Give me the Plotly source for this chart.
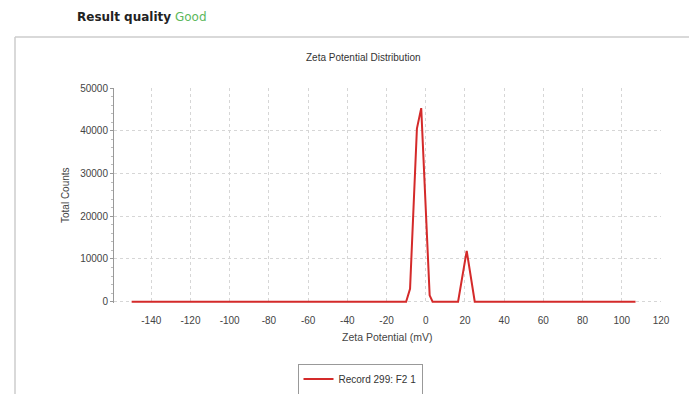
import plotly.graph_objects as go

# Data
zeta_mv = [-150, -10, -8, -4.5, -2.3, 2, 3.5, 16.5, 20.9, 25, 107]
total_counts = [0, 0, 3000, 40500, 45300, 1500, 0, 0, 11900, 0, 0]
series_name = "Record 299: F2 1"
x_ticks = [-140, -120, -100, -80, -60, -40, -20, 0, 20, 40, 60, 80, 100, 120]
x_labels = ["-140", "-120", "-100", "-80", "-60", "-40", "-20", "0", "20", "40", "60", "80", "100", "120"]
y_ticks = [0, 10000, 20000, 30000, 40000, 50000]
y_labels = ["0", "10000", "20000", "30000", "40000", "50000"]

W, H = 697, 394
OFF = 8  # default page body margin
L, R, T, B = 114, 661, 88, 303  # plot area in page px


def px(x):
    return (x - L) / (R - L)


def py(y):
    return (B - y) / (B - T)


font = "Liberation Sans, Arial, sans-serif"

fig = go.Figure()
fig.add_trace(go.Scatter(
    x=zeta_mv, y=total_counts, mode="lines", name=series_name,
    line=dict(color="#d42a2a", width=2),
))

grid = dict(showgrid=True, gridcolor="#d6d6d6", griddash="dot", gridwidth=1, zeroline=False)

fig.update_layout(
    width=W - OFF, height=H - OFF, autosize=False,
    margin=dict(l=L - OFF, r=W - R, t=T - OFF, b=H - B, autoexpand=False),
    paper_bgcolor="white", plot_bgcolor="white",
    font=dict(family=font, size=10, color="#444"),
    showlegend=True,
    legend=dict(
        x=px(360), y=py(379), xanchor="center", yanchor="middle",
        bordercolor="#999", borderwidth=1, bgcolor="white",
        font=dict(size=10, color="#333"), itemwidth=30,
    ),
    xaxis=dict(
        range=[-159, 120], tickvals=x_ticks, ticktext=x_labels, showline=False,
        ticks="", tickfont=dict(size=10, color="#444"), automargin=False,
        ticklabelstandoff=10,
        **grid,
    ),
    yaxis=dict(
        range=[-300, 50000], tickvals=y_ticks, ticktext=y_labels, showline=True, linecolor="#999",
        linewidth=1, ticks="outside", ticklen=3, tickcolor="#999", automargin=False,
        minor=dict(ticks="outside", ticklen=2, tickcolor="#bbb", dtick=2000, showgrid=False),
        tickfont=dict(size=10, color="#444"),
        **grid,
    ),
    annotations=[
        dict(xref="paper", yref="paper", x=px(75), y=py(17), xanchor="left", yanchor="middle",
             text="<b>Result quality</b> <span style='color:#5cb85c'>Good</span>",
             showarrow=False, font=dict(size=12, color="#222", family="DejaVu Sans, sans-serif")),
        dict(xref="paper", yref="paper", x=px(363), y=py(58), xanchor="center", yanchor="middle",
             text="Zeta Potential Distribution", showarrow=False,
             font=dict(size=10, color="#333", family=font)),
        dict(xref="paper", yref="paper", x=px(387), y=py(337), xanchor="center", yanchor="middle",
             text="Zeta Potential (mV)", showarrow=False,
             font=dict(size=10.5, color="#444", family=font)),
        dict(xref="paper", yref="paper", x=px(65), y=py(195), xanchor="center", yanchor="middle",
             text="Total Counts", showarrow=False, textangle=-90,
             font=dict(size=10, color="#444", family=font)),
    ],
    shapes=[
        dict(type="line", xref="paper", yref="paper", x0=px(15), x1=px(697), y0=py(37), y1=py(37),
             line=dict(color="#cccccc", width=1.5)),
        dict(type="line", xref="paper", yref="paper", x0=px(15), x1=px(15), y0=py(37), y1=py(394),
             line=dict(color="#cccccc", width=1.5)),
    ],
)

fig.write_html("out.html")
